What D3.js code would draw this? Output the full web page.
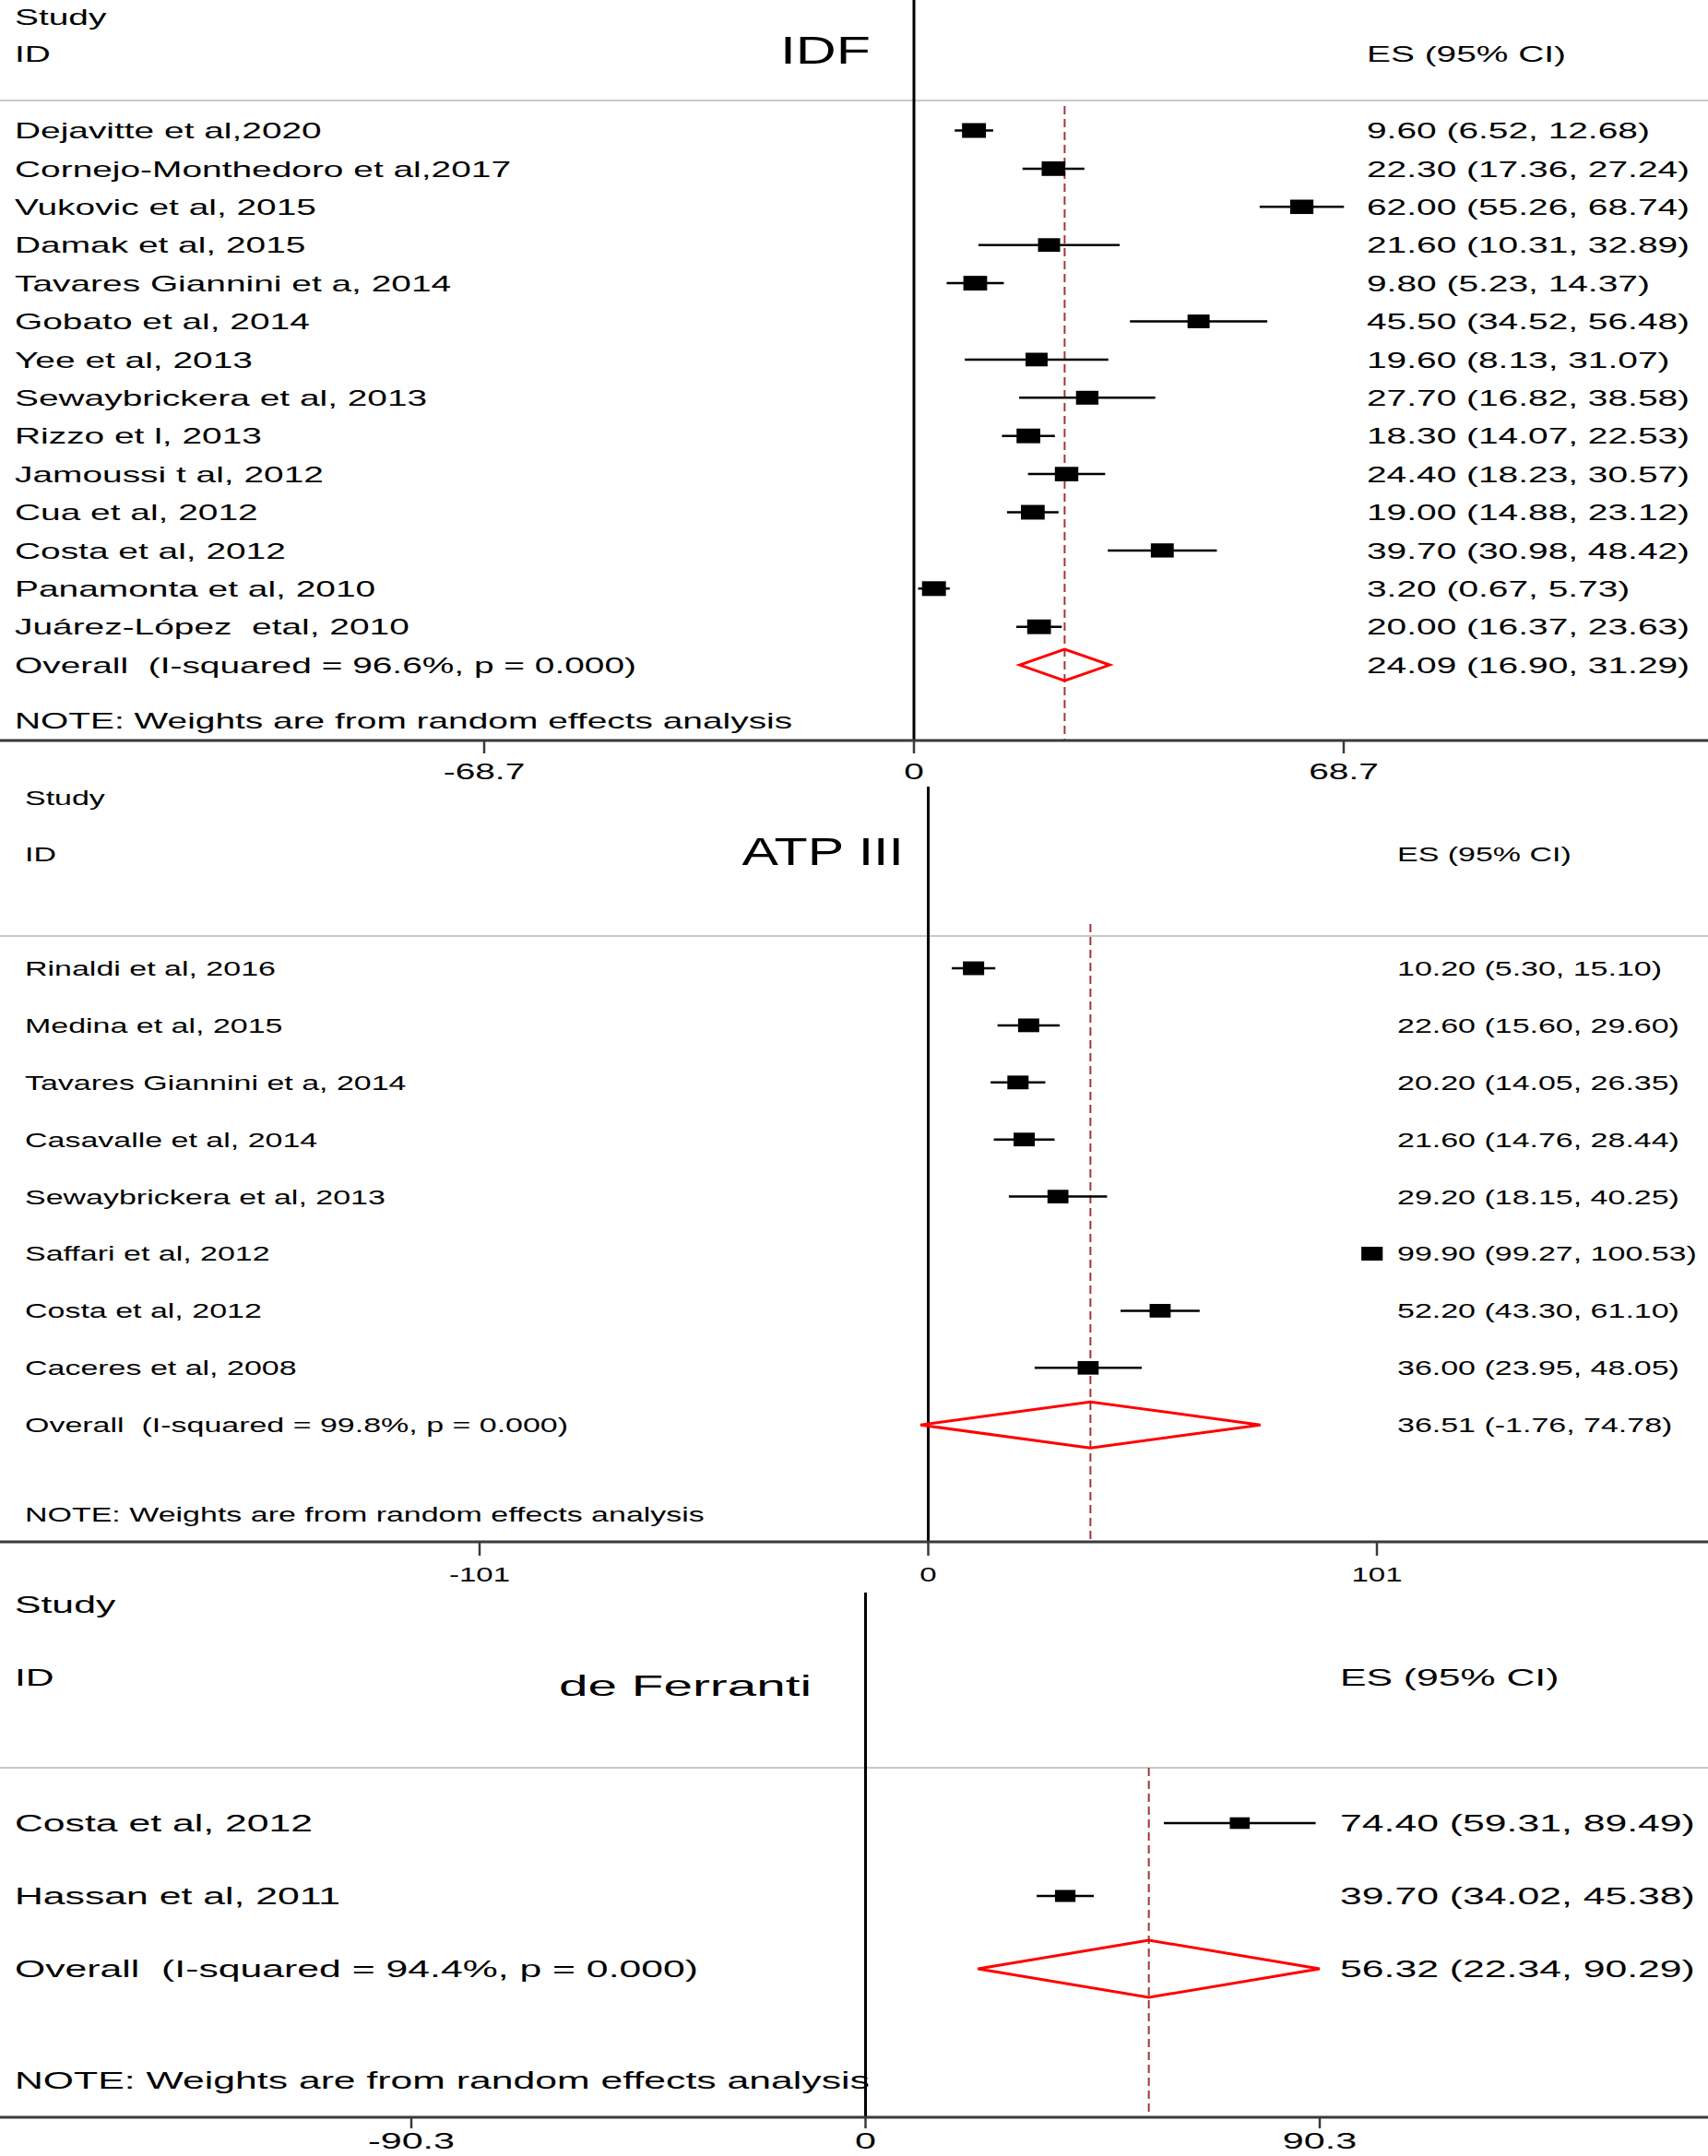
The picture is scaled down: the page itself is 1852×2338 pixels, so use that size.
<!DOCTYPE html>
<html>
<head>
<meta charset="utf-8">
<script src="https://cdn.jsdelivr.net/npm/d3@7"></script>
<style>
  html, body { margin: 0; padding: 0; background: #fff; }
  svg { display: block; }
  text { font-family: "Liberation Sans", Arial, sans-serif; fill: #000; white-space: pre; }
</style>
</head>
<body>
<svg id="chart" width="1852" height="2338"></svg>
<script>
// ---------------- DATA ----------------
// Panel 1: IDF
const idfStudies = [
  "Dejavitte et al,2020", "Cornejo-Monthedoro et al,2017", "Vukovic et al, 2015",
  "Damak et al, 2015", "Tavares Giannini et a, 2014", "Gobato et al, 2014",
  "Yee et al, 2013", "Sewaybrickera et al, 2013", "Rizzo et l, 2013",
  "Jamoussi t al, 2012", "Cua et al, 2012", "Costa et al, 2012",
  "Panamonta et al, 2010", "Juárez-López  etal, 2010"
];
const idfES = [9.60, 22.30, 62.00, 21.60, 9.80, 45.50, 19.60, 27.70, 18.30, 24.40, 19.00, 39.70, 3.20, 20.00];
const idfLo = [6.52, 17.36, 55.26, 10.31, 5.23, 34.52, 8.13, 16.82, 14.07, 18.23, 14.88, 30.98, 0.67, 16.37];
const idfHi = [12.68, 27.24, 68.74, 32.89, 14.37, 56.48, 31.07, 38.58, 22.53, 30.57, 23.12, 48.42, 5.73, 23.63];
const idfWeights = [7.5, 7.3, 7.1, 6.4, 7.4, 6.4, 6.4, 6.6, 7.4, 7.2, 7.4, 6.9, 7.5, 7.4];
const idfOverall = [24.09, 16.90, 31.29];
const idfStats = ["96.6%", "0.000"];
const idfTicks = [-68.7, 0, 68.7];

// Panel 2: ATP III
const atpStudies = [
  "Rinaldi et al, 2016", "Medina et al, 2015", "Tavares Giannini et a, 2014",
  "Casavalle et al, 2014", "Sewaybrickera et al, 2013", "Saffari et al, 2012",
  "Costa et al, 2012", "Caceres et al, 2008"
];
const atpES = [10.20, 22.60, 20.20, 21.60, 29.20, 99.90, 52.20, 36.00];
const atpLo = [5.30, 15.60, 14.05, 14.76, 18.15, 99.27, 43.30, 23.95];
const atpHi = [15.10, 29.60, 26.35, 28.44, 40.25, 100.53, 61.10, 48.05];
const atpWeights = [12.6, 12.5, 12.6, 12.5, 12.3, 12.8, 12.4, 12.3];
const atpOverall = [36.51, -1.76, 74.78];
const atpStats = ["99.8%", "0.000"];
const atpTicks = [-101, 0, 101];

// Panel 3: de Ferranti
const dfStudies = ["Costa et al, 2012", "Hassan et al, 2011"];
const dfES = [74.40, 39.70];
const dfLo = [59.31, 34.02];
const dfHi = [89.49, 45.38];
const dfWeights = [48.5, 51.5];
const dfOverall = [56.32, 22.34, 90.29];
const dfStats = ["94.4%", "0.000"];
const dfTicks = [-90.3, 0, 90.3];

// ---------------- LAYOUT ----------------
const panels = [
  { title: "IDF", studies: idfStudies, es: idfES, lo: idfLo, hi: idfHi, w: idfWeights,
    overall: idfOverall, stats: idfStats, ticks: idfTicks, tickFmt: d => d === 0 ? "0" : d.toFixed(1),
    L: { range: [525, 1457], zeroTop: 0, studyY: 18, idY: 58, titleX: 944, titleY: 54, titleFs: 42, titleSx: 1.45,
         esX: 1482, sepY: 109, rowY0: 141.5, rowStep: 41.4, noteY: 781, axisY: 803, tickLen: 14,
         tickLabelY: 836, fs: 24, sx: 1.62, labelX: 16, dashTop: 115, boxH: 16, diamondH: 17, axisFs: 24, axisSx: 1.62 } },
  { title: "ATP III", studies: atpStudies, es: atpES, lo: atpLo, hi: atpHi, w: atpWeights,
    overall: atpOverall, stats: atpStats, ticks: atpTicks, tickFmt: d => String(d),
    L: { range: [520, 1493], zeroTop: 853, studyY: 865, idY: 926, titleX: 980, titleY: 923, titleFs: 42, titleSx: 1.41,
         esX: 1515, sepY: 1015, rowY0: 1050, rowStep: 61.9, noteY: 1642, axisY: 1672, tickLen: 15,
         tickLabelY: 1707, fs: 22, sx: 1.545, labelX: 27, dashTop: 1002, boxH: 15, diamondH: 25, axisFs: 22, axisSx: 1.5 } },
  { title: "de Ferranti", studies: dfStudies, es: dfES, lo: dfLo, hi: dfHi, w: dfWeights,
    overall: dfOverall, stats: dfStats, ticks: dfTicks, tickFmt: d => d === 0 ? "0" : d.toFixed(1),
    L: { range: [446, 1431], zeroTop: 1727, studyY: 1740, idY: 1819, titleX: 880, titleY: 1827, titleFs: 32, titleSx: 1.77,
         esX: 1453, sepY: 1917, rowY0: 1977, rowStep: 79, noteY: 2256, axisY: 2296, tickLen: 12,
         tickLabelY: 2321, fs: 25, sx: 1.71, labelX: 16, dashTop: 1917, boxH: 13, diamondH: 31, axisFs: 24, axisSx: 1.72 } }
];

const W = 1852;
const svg = d3.select("#chart");
svg.append("rect").attr("width", W).attr("height", 2338).attr("fill", "#fff");

function txt(g, x, y, s, fs, sx, anchor) {
  return g.append("text")
    .attr("transform", `translate(${x},${y}) scale(${sx},1)`)
    .attr("dy", "0.36em")
    .attr("font-size", fs)
    .attr("text-anchor", anchor || "start")
    .text(s);
}
const f2 = d => d.toFixed(2);

panels.forEach(p => {
  const L = p.L;
  const g = svg.append("g");
  const x = d3.scaleLinear().domain([p.ticks[0], p.ticks[2]]).range(L.range);
  const n = p.studies.length;
  const rowY = i => L.rowY0 + i * L.rowStep;
  const wMax = d3.max(p.w);

  // header
  txt(g, L.labelX, L.studyY, "Study", L.fs, L.sx);
  txt(g, L.labelX, L.idY, "ID", L.fs, L.sx);
  txt(g, L.titleX, L.titleY, p.title, L.titleFs, L.titleSx, "end");
  txt(g, L.esX, L.idY, "ES (95% CI)", L.fs, L.sx);

  // separator
  g.append("line").attr("x1", 0).attr("x2", W).attr("y1", L.sepY).attr("y2", L.sepY)
    .attr("stroke", "#c8c8c8").attr("stroke-width", 2);

  // overall dashed line
  g.append("line").attr("x1", x(p.overall[0])).attr("x2", x(p.overall[0]))
    .attr("y1", L.dashTop).attr("y2", L.axisY)
    .attr("stroke", "#a3343f").attr("stroke-width", 2).attr("stroke-dasharray", "9,5");

  // zero line
  g.append("line").attr("x1", x(0)).attr("x2", x(0)).attr("y1", L.zeroTop).attr("y2", L.axisY)
    .attr("stroke", "#000").attr("stroke-width", 3);

  // studies
  p.studies.forEach((s, i) => {
    const y = rowY(i);
    txt(g, L.labelX, y, s, L.fs, L.sx);
    g.append("line").attr("x1", x(p.lo[i])).attr("x2", x(p.hi[i])).attr("y1", y).attr("y2", y)
      .attr("stroke", "#000").attr("stroke-width", 2.5);
    const h = L.boxH * Math.sqrt(p.w[i] / wMax);
    const bw = h * L.sx;
    g.append("rect").attr("x", x(p.es[i]) - bw / 2).attr("y", y - h / 2)
      .attr("width", bw).attr("height", h).attr("fill", "#000");
    txt(g, L.esX, y, `${f2(p.es[i])} (${f2(p.lo[i])}, ${f2(p.hi[i])})`, L.fs, L.sx);
  });

  // overall
  const yo = rowY(n);
  txt(g, L.labelX, yo, `Overall  (I-squared = ${p.stats[0]}, p = ${p.stats[1]})`, L.fs, L.sx);
  const [oe, ol, oh] = p.overall;
  g.append("path")
    .attr("d", d3.line()([[x(ol), yo], [x(oe), yo - L.diamondH], [x(oh), yo], [x(oe), yo + L.diamondH]]) + "Z")
    .attr("fill", "none").attr("stroke", "#ff0000").attr("stroke-width", 3).attr("stroke-linejoin", "miter");
  txt(g, L.esX, yo, `${f2(oe)} (${f2(ol)}, ${f2(oh)})`, L.fs, L.sx);

  // note
  txt(g, L.labelX, L.noteY, "NOTE: Weights are from random effects analysis", L.fs, L.sx);

  // axis
  g.append("line").attr("x1", 0).attr("x2", W).attr("y1", L.axisY).attr("y2", L.axisY)
    .attr("stroke", "#3a3a3a").attr("stroke-width", 3);
  p.ticks.forEach(t => {
    g.append("line").attr("x1", x(t)).attr("x2", x(t)).attr("y1", L.axisY).attr("y2", L.axisY + L.tickLen)
      .attr("stroke", "#3a3a3a").attr("stroke-width", 2.5);
    txt(g, x(t), L.tickLabelY, p.tickFmt(t), L.axisFs, L.axisSx, "middle");
  });
});
</script>
</body>
</html>
